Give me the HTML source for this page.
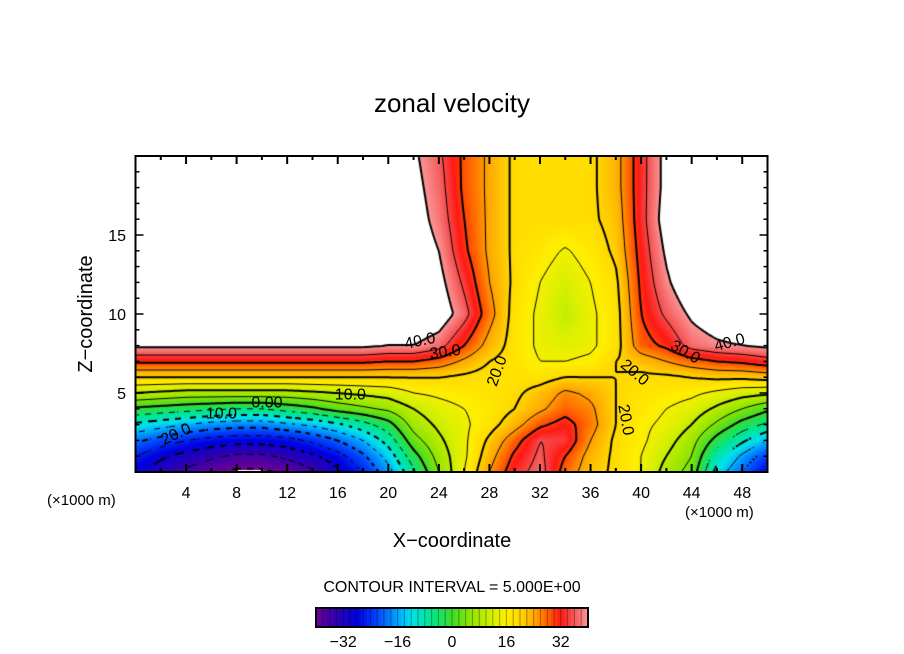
<!DOCTYPE html>
<html><head><meta charset="utf-8"><style>
html,body{margin:0;padding:0;background:#fff;}
body{width:904px;height:654px;position:relative;overflow:hidden;font-family:"Liberation Sans",sans-serif;}
#field{position:absolute;left:136px;top:157px;}
#ovl{position:absolute;left:0;top:0;}
</style></head><body>
<canvas id="field" width="632" height="315"></canvas>
<svg id="ovl" width="904" height="654">
<text x="452" y="112" text-anchor="middle" font-size="26">zonal velocity</text>
<text x="452" y="547" text-anchor="middle" font-size="20">X−coordinate</text>
<text transform="translate(92,314) rotate(-90)" text-anchor="middle" font-size="20">Z−coordinate</text>
<text x="47" y="505" font-size="15">(×1000 m)</text>
<text x="685" y="517" font-size="15">(×1000 m)</text>
<text x="452" y="592" text-anchor="middle" font-size="16">CONTOUR INTERVAL = 5.000E+00</text>
<g id="axes"></g>
<g id="clabels" font-size="16" fill="#000"></g>
<g id="cbar"></g>
</svg>
<script>
// ---- data ----
const xs = [0,2,4,6,8,10,12,14,16,18,20,22,24,26,28,30,32,34,36,38,40,42,44,46,48,50];
const zs = [0,1,2,3,4,5,6,7,8,10,12,14,16,18,20];
const row_z0  = [-29,-33,-36,-39,-41,-41,-39,-36,-31,-25,-17,-6,5,15,25,33,37,28,22,19,15,8,3,-12,-20,-28];
const row_z1  = [-25,-29,-32,-34,-36,-36,-34,-31,-27,-21,-13,-2,7,14,23,31,36,30,23,19,15,10,5,-8,-16,-23];
const row_z2  = [-19,-22,-25,-27,-28,-28,-27,-24,-20,-15,-8,3,9,14,21,28,35,34,25,19,16,12,7,-2,-9,-15];
const row_z3  = [-11,-13,-15,-17,-18,-18,-16,-14,-11,-7,-2,7,11,14,18,23,29,32,27,20,16,14,10,4,-2,-6];
const row_z4  = [-1,-2,-3,-4,-5,-5,-3,-1,2,4,6,10,13,15,17,20,24,28,26,20,17,15,13,9,5,1];
const row_z5  = [10,9,8,8,8,8,8,9,10,11,12,15,16,17,18,19,22,26,24,20,18,17,16,14,12,11];
const row_z6  = [20,20,20,20,20,20,20,20,20,20,20,20,20,19,18,18,18,20,20,20,19,19,20,21,21,22];
const row_z7  = [31,31,31,31,31,31,31,31,31,31,30,30,28,24,20,18,15,15,16,20,22,25,28,30,31,33];
const row_z8  = [41,41,41,41,41,41,41,41,41,41,40,40,37,30,23,18,14,13,14,18,28,31,37,39,40,41];
const row_z10 = [46,46,46,46,46,46,46,46,46,46,46,46,44,37,27,18,14,10,14,18,30,36,41,44,46,46];
const row_z12 = [46,46,46,46,46,46,46,46,46,46,46,45,42,34,25,19,15,12,15,19,31,39,45,46,46,46];
const row_z14 = [46,46,46,46,46,46,46,46,46,46,46,44,40,31,24,19,17,14.5,17,21,32,41,46,46,46,46];
const row_z16 = [46,46,46,46,46,46,46,46,46,46,46,43,38,30,24,19,19,19,19,22,33,43,46,46,46,46];
const row_z18 = [46,46,46,46,46,46,46,46,46,46,46,42,37,29,24,19,19,19,19,23,33,42,46,46,46,46];
const row_z20 = [46,46,46,46,46,46,46,46,46,46,46,41,36,29,24,19,19,19,19,23,33,42,46,46,46,46];
const rows = [row_z0,row_z1,row_z2,row_z3,row_z4,row_z5,row_z6,row_z7,row_z8,row_z10,row_z12,row_z14,row_z16,row_z18,row_z20];
const xTicks = [4,8,12,16,20,24,28,32,36,40,44,48];
const zTicks = [5,10,15];
const cbarTicks = [-32,-16,0,16,32];
const contourLabels = [["40.0",22.5,8.3,-12],["30.0",24.5,7.6,-8],["20.0",28.6,6.4,-70],["10.0",17,4.9,0],["0.00",10.4,4.4,0],["10.0",6.8,3.7,0],["20.0",3.2,2.4,-25],["20.0",39.5,6.3,40],["30.0",43.5,7.6,30],["40.0",47,8.2,-15],["20.0",38.8,3.3,80]];
// ---- scales ----
const X0=135.5,X1=767.5,Y0=472,Y1=156;
const sx = x => X0 + (x-0)/(50-0)*(X1-X0);
const sz = z => Y0 - (z-0)/(20-0)*(Y0-Y1);
const stops=[[-40,[110,0,150]],[-34,[45,0,175]],[-28,[0,0,225]],[-22,[0,70,255]],[-16,[0,165,255]],[-12,[0,225,235]],[-6,[0,230,140]],[0,[60,220,40]],[6,[150,230,0]],[12,[215,240,0]],[16,[255,238,0]],[20,[255,215,0]],[24,[255,170,0]],[28,[255,100,0]],[32,[255,25,20]],[36,[245,90,90]],[40,[250,150,150]]];
function color(v){
  if(v>40) return [255,255,255];
  if(v<-40.5) return [255,255,255];
  if(v<=-40) return stops[0][1];
  for(let i=0;i<stops.length-1;i++){
    if(v<=stops[i+1][0]){const t=(v-stops[i][0])/(stops[i+1][0]-stops[i][0]);const a=stops[i][1],b=stops[i+1][1];return [a[0]+(b[0]-a[0])*t,a[1]+(b[1]-a[1])*t,a[2]+(b[2]-a[2])*t];}
  }
  return stops[stops.length-1][1];
}
function idx(arr,v){let i=0;while(i<arr.length-2&&v>arr[i+1])i++;return [i,Math.max(0,Math.min(1,(v-arr[i])/(arr[i+1]-arr[i])))];}
function field(x,z){
  const [i,tx]=idx(xs,x),[j,tz]=idx(zs,z);
  const a=rows[j][i],b=rows[j][i+1],c=rows[j+1][i],d=rows[j+1][i+1];
  return (a*(1-tx)+b*tx)*(1-tz)+(c*(1-tx)+d*tx)*tz;
}
// ---- render field ----
const cv=document.getElementById('field'),ctx=cv.getContext('2d');
const W=cv.width,H=cv.height,img=ctx.createImageData(W,H);
const ox=136,oy=157;
for(let py=0;py<H;py++)for(let px=0;px<W;px++){
  const x=(ox+px+0.5-X0)/(X1-X0)*50, z=(Y0-(oy+py+0.5))/(Y0-Y1)*20;
  const c=color(field(x,z));const k=(py*W+px)*4;
  img.data[k]=c[0];img.data[k+1]=c[1];img.data[k+2]=c[2];img.data[k+3]=255;
}
ctx.putImageData(img,0,0);
// ---- contours (marching squares) ----
const st=3,nx=Math.ceil(W/st)+1,ny=Math.ceil(H/st)+1,g=[];
for(let j=0;j<ny;j++){g.push([]);for(let i=0;i<nx;i++){const px=i*st,py=j*st;g[j].push(field((ox+px-X0)/(X1-X0)*50,(Y0-(oy+py))/(Y0-Y1)*20));}}
for(let L=-40;L<=40;L+=5){
  ctx.strokeStyle='#000';ctx.lineWidth=(L%10===0)?2:1;
  ctx.beginPath();
  for(let j=0;j<ny-1;j++)for(let i=0;i<nx-1;i++){
    const v=[g[j][i],g[j][i+1],g[j+1][i+1],g[j+1][i]];
    const p=[[i,j],[i+1,j],[i+1,j+1],[i,j+1]];
    const pts=[];
    for(let e=0;e<4;e++){const a=v[e],b=v[(e+1)%4];if((a<L)!==(b<L)){const t=(L-a)/(b-a);const A=p[e],B=p[(e+1)%4];pts.push([(A[0]+(B[0]-A[0])*t)*st,(A[1]+(B[1]-A[1])*t)*st]);}}
    if(L<0&&Math.floor((i+j)/2)%2===1)continue;
    for(let k=0;k+1<pts.length;k+=2){ctx.moveTo(pts[k][0],pts[k][1]);ctx.lineTo(pts[k+1][0],pts[k+1][1]);}
  }
  ctx.stroke();
}
// ---- axes ----
const NS='http://www.w3.org/2000/svg';
const axes=document.getElementById('axes');
function mk(tag,attrs,parent){const e=document.createElementNS(NS,tag);for(const k in attrs)e.setAttribute(k,attrs[k]);parent.appendChild(e);return e;}
const frame=mk('rect',{x:X0,y:Y1,width:X1-X0,height:Y0-Y1,fill:'none',stroke:'#000','stroke-width':2},axes);


for(let x=2;x<50;x+=2){
  const L=(x%4===0)?8:4;
  const t1=mk('line',{x1:sx(x),x2:sx(x),y1:Y0,y2:Y0-L,stroke:'#000','stroke-width':2},axes);
  
  
  const t2=mk('line',{x1:sx(x),x2:sx(x),y1:Y1,y2:Y1+L,stroke:'#000','stroke-width':2},axes);
  
  
}
for(let z=1;z<20;z++){
  const L=(z%5===0)?8:4;
  const t1=mk('line',{x1:X0,x2:X0+L,y1:sz(z),y2:sz(z),stroke:'#000','stroke-width':1.5},axes);
  
  
  const t2=mk('line',{x1:X1,x2:X1-L,y1:sz(z),y2:sz(z),stroke:'#000','stroke-width':1.5},axes);
  
  
}
xTicks.forEach(x=>{const t=mk('text',{x:sx(x),y:498,'text-anchor':'middle','font-size':16},axes);t.textContent=x;
  
  });
zTicks.forEach(z=>{const t=mk('text',{x:126,y:sz(z)+6,'text-anchor':'end','font-size':16},axes);t.textContent=z;
  
  });
// contour labels
const cl=document.getElementById('clabels');
contourLabels.forEach(([s,x,z,r])=>{const t=mk('text',{x:sx(x),y:sz(z)+5,'text-anchor':'middle',transform:`rotate(${r} ${sx(x)} ${sz(z)})`},cl);t.textContent=s;
  
  });
// ---- colorbar ----
const cb=document.getElementById('cbar');
const CB0=316,CB1=588,cy=608,ch=19;
const cbx=v=>CB0+(v+40)/80*(CB1-CB0);
for(let v=-40;v<40;v+=1){
  const c=color(v+0.5);
  const r=mk('rect',{x:cbx(v),y:cy,width:(CB1-CB0)/80+0.3,height:ch,fill:`rgb(${c.map(Math.round).join(',')})`},cb);
  
  
  if(v%2===0){const l=mk('line',{x1:cbx(v),x2:cbx(v),y1:cy,y2:cy+ch,stroke:'rgba(0,0,0,0.35)','stroke-width':1},cb);
    
    }
}
const cbf=mk('rect',{x:CB0,y:cy,width:CB1-CB0,height:ch,fill:'none',stroke:'#000','stroke-width':2},cb);


cbarTicks.forEach(v=>{const t=mk('text',{x:cbx(v),y:647,'text-anchor':'middle','font-size':16},cb);t.textContent=v<0?'−'+(-v):v;
  
  });
</script>
</body></html>
